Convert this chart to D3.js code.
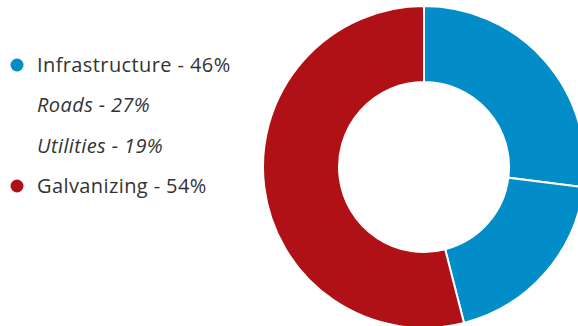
<!DOCTYPE html>
<html>
<head>
<meta charset="utf-8">
<script src="https://cdn.jsdelivr.net/npm/d3@7"></script>
<style>
  body { margin: 0; background: #fff; }
  svg { display: block; }
</style>
</head>
<body>
<script>
// slice values, in drawing order (clockwise from 12 o'clock)
const sliceNames = ["Roads", "Utilities", "Galvanizing"];
const sliceValues = [27, 19, 54];
const sliceColors = ["#028cc8", "#028cc8", "#b01116"];

// legend rows
const legendLabels = ["Infrastructure - 46%", "Roads - 27%", "Utilities - 19%", "Galvanizing - 54%"];
const legendDots = ["#028cc8", null, null, "#b01116"];
const legendItalic = [false, true, true, false];

const width = 578, height = 326;

const svg = d3.select("body").append("svg")
    .attr("width", width)
    .attr("height", height);

// donut
const pie = d3.pie().sort(null).value(d => d);
const arc = d3.arc().innerRadius(85).outerRadius(161);

const donut = svg.append("g")
    .attr("transform", "translate(424,167)");

donut.selectAll("path")
    .data(pie(sliceValues))
    .join("path")
    .attr("d", arc)
    .attr("fill", (d, i) => sliceColors[i])
    .attr("stroke", "#fff")
    .attr("stroke-width", 2);

// legend
const rowY = d3.scaleLinear().domain([0, 3]).range([65, 186]);

const legend = svg.append("g");

legend.selectAll("circle")
    .data(legendDots.map((c, i) => ({c, i})).filter(d => d.c))
    .join("circle")
    .attr("cx", 17)
    .attr("cy", d => rowY(d.i))
    .attr("r", 6.5)
    .attr("fill", d => d.c);

legend.selectAll("text")
    .data(legendLabels)
    .join("text")
    .attr("x", 37)
    .attr("y", (d, i) => rowY(i))
    .attr("dy", "0.35em")
    .attr("font-family", "Open Sans, sans-serif")
    .attr("font-size", 20)
    .attr("letter-spacing", 0.4)
    .attr("font-style", (d, i) => legendItalic[i] ? "italic" : "normal")
    .attr("fill", "#333")
    .text(d => d);
</script>
</body>
</html>
